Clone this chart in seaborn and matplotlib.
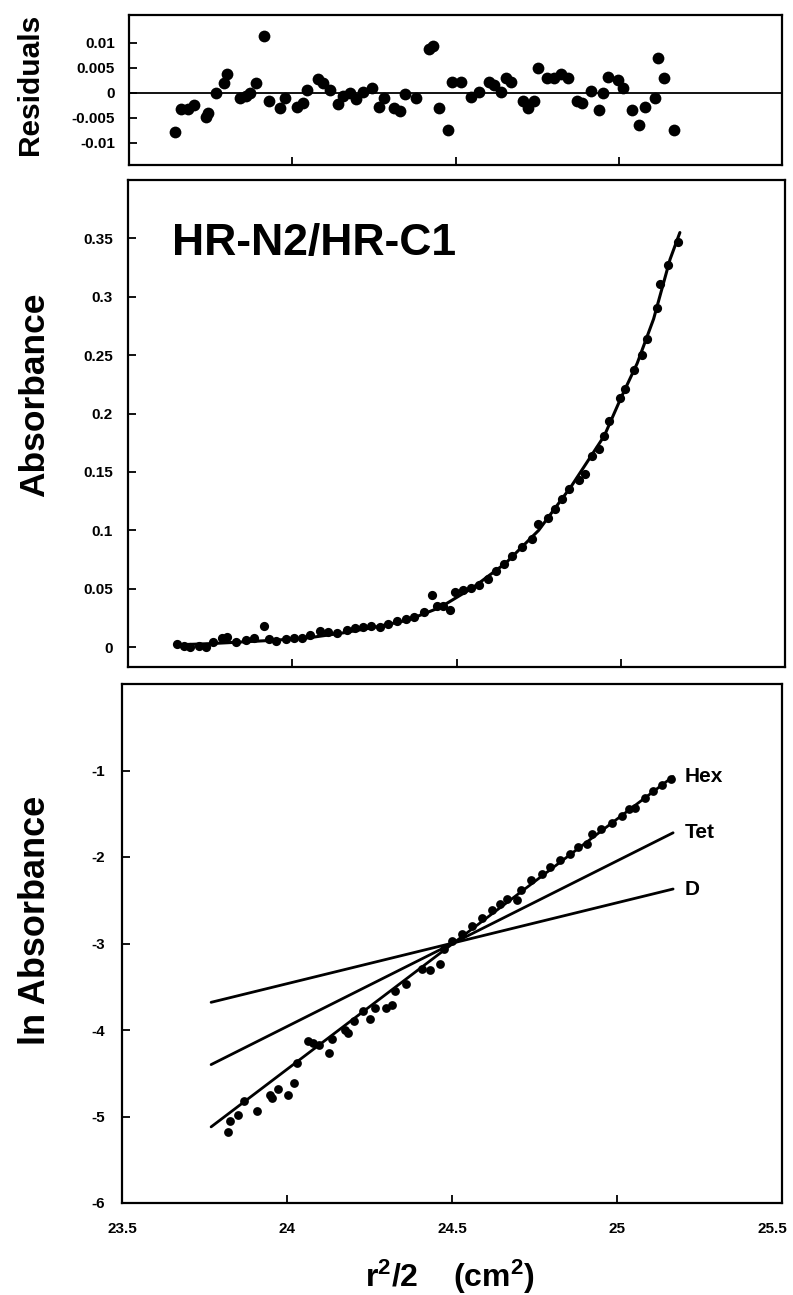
import matplotlib
matplotlib.use("Agg")
import matplotlib.pyplot as plt
from matplotlib.transforms import ScaledTranslation
import seaborn as sns

# ---------------- data ----------------
res_x = [23.642, 23.66, 23.68, 23.70, 23.736, 23.743, 23.767, 23.79, 23.80, 23.84,
         23.858, 23.871, 23.89, 23.915, 23.928, 23.964, 23.979, 24.014, 24.034, 24.045,
         24.08, 24.095, 24.115, 24.14, 24.154, 24.176, 24.196, 24.216, 24.244, 24.267,
         24.28, 24.312, 24.33, 24.345, 24.378, 24.418, 24.43, 24.448, 24.477, 24.49,
         24.517, 24.549, 24.572, 24.602, 24.618, 24.64, 24.656, 24.669, 24.706, 24.723,
         24.741, 24.752, 24.78, 24.802, 24.822, 24.845, 24.873, 24.888, 24.915, 24.938,
         24.952, 24.966, 24.999, 25.014, 25.042, 25.063, 25.08, 25.11, 25.12, 25.14,
         25.17]
res_y = [-0.0079, -0.0033, -0.0033, -0.0025, -0.0048, -0.0041, -0.0001, 0.0019, 0.0037, -0.0010,
         -0.0006, -0.0001, 0.0019, 0.0114, -0.0017, -0.0030, -0.0011, -0.0028, -0.0021, 0.0005,
         0.0027, 0.0019, 0.0005, -0.0023, -0.0006, -0.0001, -0.0013, 0.0002, 0.0010, -0.0028,
         -0.0010, -0.0030, -0.0037, -0.0003, -0.0010, 0.0087, 0.0094, -0.0030, -0.0075, 0.0021,
         0.0022, -0.0008, 0.0002, 0.0021, 0.0015, 0.0002, 0.0030, 0.0021, -0.0017, -0.0030,
         -0.0017, 0.0050, 0.0029, 0.0030, 0.0037, 0.0030, -0.0017, -0.0021, 0.0003, -0.0035,
         -0.0001, 0.0032, 0.0025, 0.0009, -0.0035, -0.0065, -0.0028, -0.0010, 0.0069, 0.0029,
         -0.0075]

abs_x = [23.65, 23.67, 23.69, 23.716, 23.736, 23.76, 23.786, 23.80, 23.83, 23.858,
         23.883, 23.915, 23.93, 23.95, 23.98, 24.004, 24.03, 24.055, 24.085, 24.11,
         24.135, 24.166, 24.19, 24.216, 24.24, 24.267, 24.29, 24.32, 24.345, 24.37,
         24.40, 24.426, 24.44, 24.46, 24.48, 24.494, 24.52, 24.545, 24.57, 24.595,
         24.62, 24.645, 24.67, 24.70, 24.73, 24.749, 24.78, 24.80, 24.82, 24.842,
         24.873, 24.89, 24.913, 24.935, 24.948, 24.964, 24.999, 25.014, 25.04, 25.065,
         25.08, 25.11, 25.12, 25.143, 25.174]
abs_y = [0.0026, 0.0006, 0.0, 0.0006, -0.0003, 0.0040, 0.0075, 0.009, 0.004, 0.006,
         0.0075, 0.018, 0.007, 0.0055, 0.007, 0.0075, 0.008, 0.010, 0.014, 0.013,
         0.012, 0.015, 0.016, 0.017, 0.018, 0.017, 0.020, 0.022, 0.024, 0.026,
         0.030, 0.045, 0.035, 0.035, 0.032, 0.047, 0.049, 0.051, 0.053, 0.058,
         0.065, 0.071, 0.078, 0.0855, 0.0926, 0.1055, 0.111, 0.118, 0.127, 0.135,
         0.143, 0.148, 0.1635, 0.170, 0.181, 0.194, 0.213, 0.221, 0.237, 0.250,
         0.264, 0.290, 0.311, 0.327, 0.3465]

fit_x = [23.65, 23.75, 23.85, 23.95, 24.05, 24.15, 24.25, 24.35, 24.45, 24.55,
         24.65, 24.75, 24.85, 24.95, 25.0, 25.05, 25.1, 25.15, 25.18]
fit_y = [0.002, 0.003, 0.0045, 0.006, 0.008, 0.012, 0.017, 0.023, 0.034, 0.051,
         0.072, 0.100, 0.138, 0.181, 0.213, 0.243, 0.281, 0.332, 0.355]

ln_x = [23.82, 23.827, 23.85, 23.871, 23.908, 23.948, 23.955, 23.974, 24.002, 24.022,
        24.03, 24.065, 24.08, 24.097, 24.126, 24.137, 24.176, 24.184, 24.204, 24.231,
        24.252, 24.267, 24.30, 24.317, 24.327, 24.362, 24.408, 24.433, 24.464, 24.477,
        24.50, 24.53, 24.56, 24.59, 24.62, 24.645, 24.666, 24.696, 24.71, 24.74,
        24.772, 24.797, 24.827, 24.858, 24.883, 24.908, 24.923, 24.953, 24.984, 25.014,
        25.035, 25.055, 25.085, 25.11, 25.135, 25.164]
ln_y = [-5.175, -5.054, -4.977, -4.825, -4.94, -4.756, -4.79, -4.687, -4.756, -4.61,
        -4.38, -4.125, -4.152, -4.175, -4.266, -4.106, -4.00, -4.037, -3.896, -3.78,
        -3.877, -3.743, -3.743, -3.716, -3.552, -3.464, -3.296, -3.31, -3.235, -3.06,
        -2.97, -2.89, -2.80, -2.71, -2.616, -2.54, -2.482, -2.493, -2.387, -2.264,
        -2.195, -2.12, -2.035, -1.96, -1.89, -1.845, -1.737, -1.68, -1.604, -1.527,
        -1.45, -1.432, -1.318, -1.233, -1.168, -1.099]

model_names = ["Hex", "Tet", "D"]
model_x = [23.77, 25.17]
model_y = {"Hex": [-5.12, -1.07], "Tet": [-4.40, -1.72], "D": [-3.68, -2.37]}

res_ticks = [0.01, 0.005, 0, -0.005, -0.01]
res_ticklabels = ["0.01", "0.005", "0", "-0.005", "-0.01"]
abs_ticks = [0, 0.05, 0.1, 0.15, 0.2, 0.25, 0.3, 0.35]
abs_ticklabels = ["0", "0.05", "0.1", "0.15", "0.2", "0.25", "0.3", "0.35"]
ln_ticks = [-1, -2, -3, -4, -5, -6]
ln_ticklabels = ["-1", "-2", "-3", "-4", "-5", "-6"]
x_ticks = [23.5, 24, 24.5, 25, 25.5]
x_ticklabels = ["23.5", "24", "24.5", "25", "25.5"]

# ---------------- styling ----------------
sns.set_theme(style="ticks")
plt.rcParams["font.family"] = ["Liberation Sans", "DejaVu Sans"]
plt.rcParams.update({
    "font.weight": "bold",
    "text.color": "black",
    "axes.labelcolor": "black",
    "xtick.color": "black",
    "ytick.color": "black",
    "mathtext.fontset": "custom",
    "mathtext.rm": "Liberation Sans:bold",
    "mathtext.bf": "Liberation Sans:bold",
    "mathtext.it": "Liberation Sans:bold",
})

W, H = 793, 1295
fig = plt.figure(figsize=(W / 100, H / 100), dpi=100)
fig.patch.set_facecolor("white")


def box(l, t, r, b):
    return [l / W, 1 - b / H, (r - l) / W, (b - t) / H]


ax1 = fig.add_axes(box(129, 15, 782, 165))
ax2 = fig.add_axes(box(128, 180, 785, 667))
ax3 = fig.add_axes(box(122, 684, 782, 1203))

for ax in (ax1, ax2, ax3):
    ax.set_facecolor("white")
    for sp in ax.spines.values():
        sp.set_visible(True)
        sp.set_color("black")
        sp.set_linewidth(1.6)
    ax.tick_params(direction="in", length=6, width=1.3, colors="black",
                   labelsize=11, top=False, right=False)
    ax.set_xlim(23.5, 25.5)

# Residuals
sns.scatterplot(x=res_x, y=res_y, ax=ax1, color="black", s=72, linewidth=0, zorder=3)
ax1.axhline(0, color="black", lw=1.3, zorder=2)
ax1.set_ylim(-0.0145, 0.0155)
ax1.set_yticks(res_ticks)
ax1.set_yticklabels(res_ticklabels)
ax1.set_xticks(x_ticks[1:-1])
ax1.set_xticklabels([])
ax1.tick_params(axis="y", pad=10)

# Absorbance
sns.scatterplot(x=abs_x, y=abs_y, ax=ax2, color="black", s=44, linewidth=0, zorder=3)
sns.lineplot(x=fit_x, y=fit_y, ax=ax2, color="black", lw=2.2, zorder=2)
ax2.set_ylim(-0.017, 0.40)
ax2.set_yticks(abs_ticks)
ax2.set_yticklabels(abs_ticklabels)
ax2.set_xticks(x_ticks[1:-1])
ax2.set_xticklabels([])
ax2.tick_params(axis="y", pad=11)
ax2.text(0.067, 0.846, "HR-N2/HR-C1", transform=ax2.transAxes, fontsize=32,
         fontweight="bold", ha="left", va="baseline", color="black")

# ln Absorbance
sns.scatterplot(x=ln_x, y=ln_y, ax=ax3, color="black", s=40, linewidth=0, zorder=3)
for name in model_names:
    sns.lineplot(x=model_x, y=model_y[name], ax=ax3, color="black", lw=2.0, zorder=2)
    ax3.text(model_x[1] + 0.035, model_y[name][1], name, fontsize=15,
             fontweight="bold", ha="left", va="center", color="black")
ax3.set_ylim(-6, 0)
ax3.set_yticks(ln_ticks)
ax3.set_yticklabels(ln_ticklabels)
ax3.set_xticks(x_ticks)
ax3.set_xticklabels(x_ticklabels)
ax3.tick_params(axis="y", pad=12)
ax3.tick_params(axis="x", pad=14)
last = ax3.get_xticklabels()[-1]
last.set_transform(last.get_transform() + ScaledTranslation(-7 / 72, 0, fig.dpi_scale_trans))

# axis titles
fig.text(30 / W, 1 - 84 / H, "Residuals", rotation=90, fontsize=21.5,
         fontweight="bold", ha="center", va="center")
fig.text(35 / W, 1 - 395 / H, "Absorbance", rotation=90, fontsize=25.5,
         fontweight="bold", ha="center", va="center")
fig.text(36 / W, 1 - 920 / H, "ln Absorbance", rotation=90, fontsize=26,
         fontweight="bold", ha="center", va="center")
fig.text(450 / W, 1 - 1277 / H, r"r$^\mathbf{2}$/2    (cm$^\mathbf{2}$)", fontsize=23,
         fontweight="bold", ha="center", va="center")

fig.savefig("out.png", dpi=100, facecolor="white")
